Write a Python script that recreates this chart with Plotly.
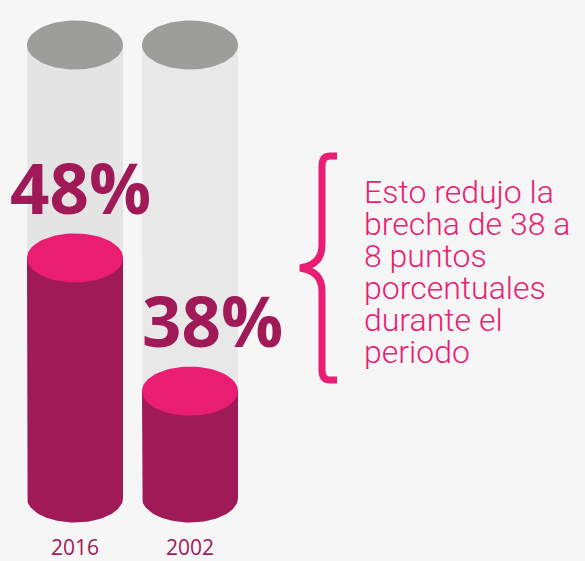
import numpy as np
import plotly.graph_objects as go

# --- data ---
years = ["2016", "2002"]
values = [48, 38]                 # printed percentages
fill_levels = [53.0, 23.6]        # drawn fill height, % of the tank (graphic is not to scale)
note_lines = ["Esto redujo la", "brecha de 38 a", "8 puntos",
              "porcentuales", "durante el", "periodo"]

# --- style ---
W, H = 585, 561
BG = "#f6f6f6"
DARK = "#a01a58"
PINK = "#e91e72"
GREY_TOP = "#9d9d9c"
GREY_BODY = ["#e4e4e4", "#e8e8e8"]
centers = [75, 190]               # x in pixels
RX = 48
PX_PER_UNIT = 4.53                # 100 tank units = 453 px
BOTTOM_PX = 498
RY = 24.5 / PX_PER_UNIT
y_range = [(BOTTOM_PX - H) / PX_PER_UNIT, BOTTOM_PX / PX_PER_UNIT]


def ellipse(cx, cy, n=80):
    t = np.linspace(0, 2 * np.pi, n)
    return cx + RX * np.cos(t), cy + RY * np.sin(t)


def body(cx, top, n=60):
    # left edge down, front half of bottom ellipse, right edge up
    t = np.linspace(np.pi, 2 * np.pi, n)
    xs = [cx - RX] + list(cx + RX * np.cos(t)) + [cx + RX, cx - RX]
    ys = [top] + list(0 + RY * np.sin(t)) + [top, top]
    return xs, ys


fig = go.Figure()


def poly(xs, ys, color):
    fig.add_trace(go.Scatter(x=xs, y=ys, fill="toself", fillcolor=color,
                             mode="lines", line=dict(width=0, color=color),
                             hoverinfo="skip", showlegend=False))


for i, cx in enumerate(centers):
    # empty tank
    poly(*body(cx, 100), GREY_BODY[i])
    poly(*ellipse(cx, 100), GREY_TOP)
    # filled part
    poly(*body(cx, fill_levels[i]), DARK)
    poly(*ellipse(cx, fill_levels[i]), PINK)

label_dx = [5, 22]
for i, cx in enumerate(centers):
    fig.add_annotation(x=cx + label_dx[i], y=fill_levels[i] + 15.7,
                       text=f"<b>{values[i]}%</b>", showarrow=False,
                       xanchor="center", yanchor="middle",
                       font=dict(family="Open Sans", size=69, color=DARK))
    fig.add_annotation(x=cx, y=-10.9, text=years[i], showarrow=False,
                       xanchor="center", yanchor="middle",
                       font=dict(family="Open Sans", size=21, color=DARK))


def px(x, y):
    return f"{x / W:.4f} {1 - y / H:.4f}"


brace = (f"M {px(337, 156)} L {px(330, 156)} Q {px(322, 156)} {px(322, 166)} "
         f"L {px(322, 245)} Q {px(322, 265)} {px(300, 268)} "
         f"Q {px(322, 271)} {px(322, 291)} L {px(322, 370)} "
         f"Q {px(322, 380)} {px(330, 380)} L {px(337, 380)}")
fig.add_shape(type="path", path=brace, xref="paper", yref="paper",
              line=dict(color=PINK, width=7))

for k, line in enumerate(note_lines):
    fig.add_annotation(x=362 / W, y=1 - (192 + 32 * k) / H, xref="paper", yref="paper",
                       text=line, showarrow=False, xanchor="left", yanchor="middle",
                       font=dict(family="Roboto", size=32, weight=300, color=PINK))

fig.update_xaxes(range=[0, W], visible=False, fixedrange=True)
fig.update_yaxes(range=y_range, visible=False, fixedrange=True)
fig.update_layout(width=W, height=H, margin=dict(l=0, r=0, t=0, b=0),
                  paper_bgcolor=BG, plot_bgcolor=BG)

fig.write_html("out.html", config={"displayModeBar": False},
               post_script="document.body.style.margin='0';")
